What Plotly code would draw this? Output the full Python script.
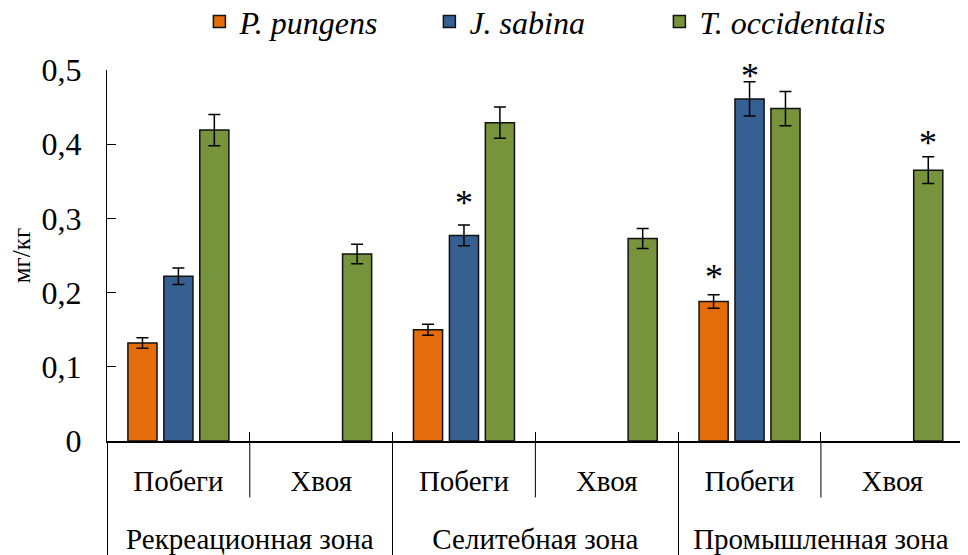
import plotly.graph_objects as go

# ---------------- data ----------------
zones = ["Рекреационная зона", "Рекреационная зона",
         "Селитебная зона", "Селитебная зона",
         "Промышленная зона", "Промышленная зона"]
organs = ["Побеги", "Хвоя", "Побеги", "Хвоя", "Побеги", "Хвоя"]

series_names = ["<i>P. pungens</i>", "<i>J. sabina</i>", "<i>T. occidentalis</i>"]
pungens = [0.132, None, 0.150, None, 0.188, None]
pungens_err = [0.007, 0, 0.0075, 0, 0.009, 0]
sabina = [0.222, None, 0.277, None, 0.461, None]
sabina_err = [0.011, 0, 0.014, 0, 0.023, 0]
occidentalis = [0.419, 0.252, 0.429, 0.273, 0.448, 0.365]
occidentalis_err = [0.021, 0.013, 0.021, 0.0135, 0.023, 0.018]

# significance marks (*): height of each mark
pungens_sig = [None, None, None, None, 0.228, None]
sabina_sig = [None, None, 0.327, None, 0.499, None]
occidentalis_sig = [None, None, None, None, None, 0.408]

y_tickvals = [0, 0.1, 0.2, 0.3, 0.4, 0.5]
y_ticktext = ["0", "0,1", "0,2", "0,3", "0,4", "0,5"]
y_title = "мг/кг"

colors = ["#E46C0A", "#376092", "#77933C"]

# ---------------- figure ----------------
FONT = "Liberation Serif"
BARGAP = 0.245
BARGROUPGAP = 0.19
x_range = [-0.5, len(zones) - 0.5 + 0.03]

values = [pungens, sabina, occidentalis]
errors = [pungens_err, sabina_err, occidentalis_err]
sigs = [pungens_sig, sabina_sig, occidentalis_sig]

# outer labels are pushed one line down to leave room below the organ row
zone_labels = ["<br>" + z for z in zones]

fig = go.Figure()
for name, vals, errs, col in zip(series_names, values, errors, colors):
    fig.add_trace(go.Bar(
        x=[zone_labels, organs], y=vals, name=name,
        marker=dict(color=col, line=dict(color="#111111", width=1.5)),
        error_y=dict(type="data", array=errs, visible=True,
                     color="#000000", thickness=1.5, width=6),
    ))

# asterisks, placed on an overlaid numeric axis that matches the category slots
n_series = len(values)
slot = (1 - BARGAP) / n_series
annotations = []
for k, sg in enumerate(sigs):
    for i, s in enumerate(sg):
        if s is not None:
            annotations.append(dict(
                x=i + (k - (n_series - 1) / 2) * slot, y=s,
                xref="x2", yref="y", text="*", showarrow=False,
                yanchor="middle", yshift=-5,
                font=dict(family=FONT, size=36, color="#000000")))

# inner dividers between organs within a zone
shapes = []
for i in range(len(zones) - 1):
    if zones[i] == zones[i + 1]:
        shapes.append(dict(type="line", xref="x2", yref="paper",
                           x0=i + 0.5, x1=i + 0.5, y0=0, y1=-0.152,
                           line=dict(color="#000000", width=1)))

fig.update_layout(
    width=960, height=547,
    margin=dict(l=99, r=0, t=62, b=114, autoexpand=False),
    paper_bgcolor="white", plot_bgcolor="white",
    font=dict(family=FONT, size=28, color="#000000"),
    barmode="group", bargap=BARGAP, bargroupgap=BARGROUPGAP,
    showlegend=True,
    legend=dict(orientation="h", xref="paper", yref="paper",
                x=0.508, xanchor="center", y=1.13, yanchor="middle",
                font=dict(family=FONT, size=32, color="#000000"),
                entrywidth=185, entrywidthmode="pixels",
                bgcolor="rgba(0,0,0,0)"),
    xaxis=dict(type="multicategory", range=x_range, automargin=False,
               showline=True, linecolor="#000000", linewidth=1.5,
               ticks="inside", ticklen=9, tickcolor="#000000",
               ticklabelstandoff=13,
               showdividers=True, dividercolor="#000000", dividerwidth=1,
               showgrid=False, zeroline=False,
               tickfont=dict(family=FONT, size=29, color="#000000")),
    xaxis2=dict(overlaying="x", range=x_range, visible=False),
    yaxis=dict(range=[0, 0.5], tickvals=y_tickvals, ticktext=y_ticktext,
               automargin=False,
               showline=True, linecolor="#000000", linewidth=1,
               ticks="inside", ticklen=9, tickcolor="#000000",
               ticklabelstandoff=18,
               showgrid=False, zeroline=False,
               tickfont=dict(family=FONT, size=32, color="#000000"),
               title=dict(text=y_title, standoff=4,
                          font=dict(family=FONT, size=25, color="#000000"))),
    annotations=annotations,
    shapes=shapes,
)

fig.write_html("out.html")
